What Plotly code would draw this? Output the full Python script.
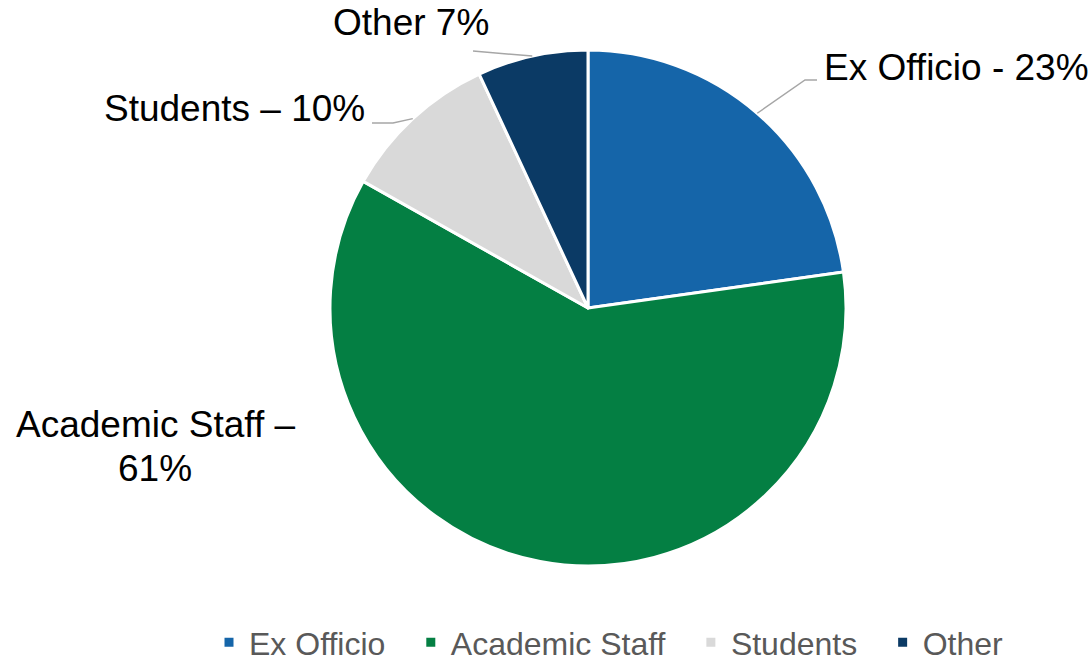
import math
import plotly.graph_objects as go

# Committee membership composition
categories = ["Ex Officio", "Academic Staff", "Students", "Other"]
shares = [23, 61, 10, 7]
slice_labels = ["Ex Officio - 23%", "Academic Staff –", "Students – 10%", "Other 7%"]
slice_label_extra = [None, "61%", None, None]
colors = ["#1565A9", "#047F43", "#D9D9D9", "#0B3A65"]

W, H = 1091, 666
CX, CY, R = 588, 308, 258  # pie centre and radius in pixels
ITEM_PAD = "\u00a0\u00a0\u200a"


def px(x):
    return x / W


def py(y):
    return 1 - y / H


# legend entries get a little trailing room so the items spread out
legend_names = [c + ITEM_PAD if i < len(categories) - 1 else c
                for i, c in enumerate(categories)]

fig = go.Figure(
    go.Pie(
        labels=legend_names,
        values=shares,
        sort=False,
        direction="clockwise",
        rotation=0,
        textinfo="none",
        hovertext=categories,
        hoverinfo="text+percent",
        marker=dict(colors=colors, line=dict(color="white", width=3)),
        domain=dict(x=[px(CX - R), px(CX + R)], y=[py(CY + R), py(CY - R)]),
    )
)

# point on the rim at the middle of each slice
total = sum(shares)
anchors = []
acc = 0
for v in shares:
    mid = (acc + v / 2) / total * 2 * math.pi
    anchors.append((CX + R * math.sin(mid), CY - R * math.cos(mid)))
    acc += v

# label placement (pixel position, anchor) and leader-line bends
label_pos = [
    (822, 67, "left"),
    (155, 424, "center"),
    (367, 108, "right"),
    (411, 22, "center"),
]
extra_pos = [None, (155, 469, "center"), None, None]
leader_bends = [
    [(805, 80), (817, 80)],
    None,
    [(393, 123), (372, 123)],
    [(473, 51)],
]

label_font = dict(family="Liberation Sans, Arial, sans-serif", size=37, color="#000000")
annotations = []
for text, (x, y, xa), extra, epos in zip(slice_labels, label_pos, slice_label_extra, extra_pos):
    annotations.append(dict(
        x=px(x), y=py(y), xref="paper", yref="paper",
        text=text, showarrow=False, xanchor=xa, yanchor="middle",
        font=label_font,
    ))
    if extra:
        ex, ey, exa = epos
        annotations.append(dict(
            x=px(ex), y=py(ey), xref="paper", yref="paper",
            text=extra, showarrow=False, xanchor=exa, yanchor="middle",
            font=label_font,
        ))

shapes = []
for (ax, ay), bends in zip(anchors, leader_bends):
    if not bends:
        continue
    pts = [(ax, ay)] + bends
    path = "M " + " L ".join(f"{px(x):.5f},{py(y):.5f}" for x, y in pts)
    shapes.append(dict(type="path", xref="paper", yref="paper", path=path,
                       line=dict(color="#A6A6A6", width=1.5)))

fig.update_layout(
    width=W, height=H,
    margin=dict(l=0, r=0, t=0, b=0, autoexpand=False),
    paper_bgcolor="white",
    plot_bgcolor="white",
    annotations=annotations,
    shapes=shapes,
    showlegend=True,
    legend=dict(
        orientation="h",
        x=px(609), xanchor="center",
        y=py(670), yanchor="bottom",
        font=dict(family="Liberation Sans, Arial, sans-serif", size=32, color="#595959"),
        traceorder="normal",
    ),
)

fig.write_html("out.html")
